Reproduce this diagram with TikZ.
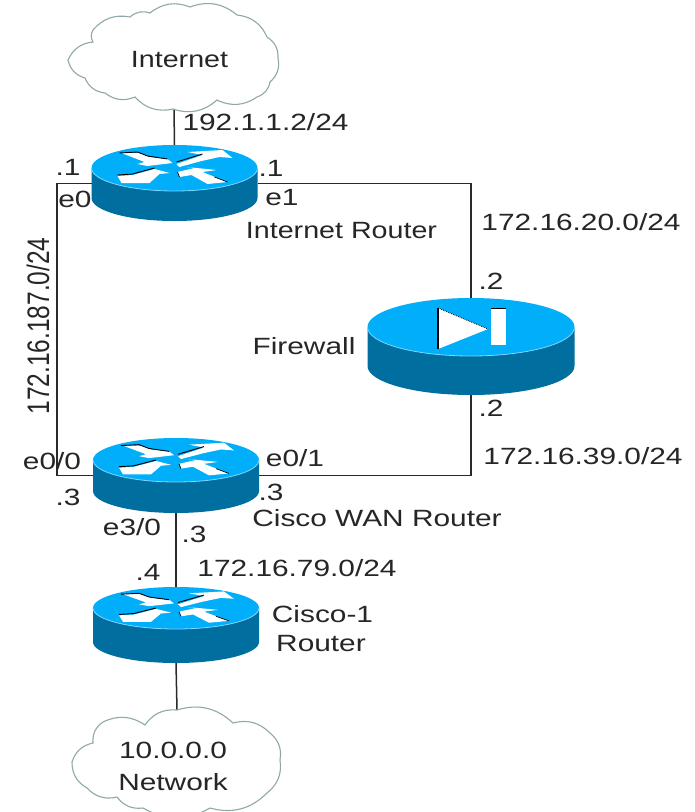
\documentclass[tikz,border=0pt]{standalone}
\usepackage{fontspec}
\setmainfont{Liberation Sans}
\definecolor{disktop}{HTML}{00AEFA}
\definecolor{diskside}{HTML}{006E9F}
\definecolor{diskrim}{HTML}{7FD6FF}
\definecolor{cloudline}{HTML}{8FA8A8}
\definecolor{linkline}{HTML}{2A2A2A}
\definecolor{labeltext}{HTML}{262626}
\tikzset{
  lbl/.style={font=\fontsize{23.5}{26}\selectfont, text=labeltext, inner sep=0pt, outer sep=0pt, xscale=1.27},
  iconbox/.style={inner sep=0pt, outer sep=0pt, draw=none},
  link/.style={draw=linkline, line width=1.5pt},
  cloudshape/.style={draw=cloudline, line width=1.1pt, fill=white},
  cloudarc/.style={bend left=30},
  cloudarcrev/.style={bend right=30},
}
% disk: #1 x, #2 y, #3 x radius, #4 y radius, #5 side height
\newcommand{\ciscodisk}[5]{%
  \fill[diskside] (#1-#3,#2) -- ++(0,#5) arc[start angle=180,end angle=0,x radius=#3,y radius=#4] -- ++(0,-#5) -- cycle;
  \fill[disktop] (#1,#2) ellipse[x radius=#3,y radius=#4];
  \draw[diskrim,line width=0.8pt] (#1-#3,#2) arc[start angle=180,end angle=0,x radius=#3,y radius=#4];
}
\newcommand{\routerarrows}[3]{%
  \begin{scope}[shift={(#1,#2)},yscale=#3]
    \fill[white] (-53,-15) -- (-35,-15) -- (-25,-11) -- (-7,-9) -- (-2,-5) -- (-27,-2) -- (-37,-4) -- (-30,-6) -- cycle;
    \fill[white] (2,-4) -- (28,-13) -- (13,-16) -- (48,-18) -- (58,-10) -- (45,-11) -- (27,-7) -- (5,-1) -- cycle;
    \fill[white] (-57,8) -- (-42,7) -- (-20,1) -- (-5,5) -- (-15,6) -- (-25,15) -- (-53,15) -- cycle;
    \fill[white] (3,4) -- (20,0) -- (12,-1) -- (42,2) -- (28,4) -- (53,14) -- (33,16) -- (17,7) -- (5,9) -- cycle;
    \draw[black,line width=0.9pt] (-55,-15) -- (-37,-16) -- (-27,-12) -- (-7,-9);
    \draw[black,line width=0.9pt] (2,-6) -- (28,-14);
    \draw[black,line width=0.9pt] (-57,7) -- (-42,6) -- (-20,0);
    \draw[black,line width=0.7pt] (3,4) -- (5,9);
    \draw[black,line width=0.7pt] (40,9) -- (53,14);
  \end{scope}
}
\begin{document}
\begin{tikzpicture}[x=1pt,y=-1pt]
\useasboundingbox (0,0) rectangle (695,812);
\fill[white] (0,0) rectangle (695,812);

% anchors for connectors
\node[iconbox,minimum width=210,minimum height=102] (cloudinet) at (174,58) {};
\node[iconbox,minimum width=208,minimum height=102] (cloudnet) at (177,761) {};
\node[iconbox,minimum width=166,minimum height=77] (inetrouter) at (174.5,183.5) {};
\node[iconbox,minimum width=166,minimum height=75] (wanrouter) at (176,475.5) {};
\node[iconbox,minimum width=166,minimum height=76] (ciscoone) at (176,625) {};
\node[iconbox,minimum width=207,minimum height=97] (firewall) at (471,346.5) {};
\coordinate (leftbus) at (57,330);

% connectors
\draw[link] (cloudinet.south) -- (inetrouter.north);
\draw[link] (inetrouter.west) -| (leftbus) |- (wanrouter.west);
\draw[link] (inetrouter.east) -| (firewall.north);
\draw[link] (firewall.south) |- (wanrouter.east);
\draw[link] (wanrouter.south) -- (ciscoone.north);
\draw[link] (ciscoone.south) -- (cloudnet.north);

% clouds
\draw[cloudshape] (173,109) to[cloudarc] (135,97) to[cloudarc] (105,93) to[cloudarc] (85,78) to[cloudarc] (68,60) to[cloudarc] (93,42) to[cloudarc] (93,30) to[cloudarc] (130,17) to[cloudarc] (150,13) to[cloudarc] (190,7) to[cloudarc] (237,15) to[cloudarc] (267,37) to[cloudarc] (278,58) to[cloudarc] (270,82) to[cloudarc] (257,97) to[cloudarc] (217,100) to[cloudarc] cycle;
\draw[cloudshape] (177,710) to[cloudarcrev] (145,725) to[cloudarcrev] (103,722) to[cloudarcrev] (93,743) to[cloudarcrev] (72,762) to[cloudarcrev] (87,788) to[cloudarcrev] (117,797) to[cloudarcrev] (143,808) to[cloudarcrev] (210,808) to[cloudarcrev] (267,793) to[cloudarcrev] (280,760) to[cloudarcrev] (270,733) to[cloudarcrev] (233,723) to[cloudarcrev] cycle;

% disks
\ciscodisk{174.5}{168}{83}{23}{30}
\routerarrows{174.5}{168}{1}
\ciscodisk{176}{460}{83}{22}{31}
\routerarrows{176}{460}{0.96}
\ciscodisk{176}{608}{83}{21}{34}
\routerarrows{176}{608}{0.92}
\ciscodisk{471}{327}{103.5}{29}{39}
\fill[white] (438,308) -- (488,329) -- (438,349) -- cycle;
\draw[black,line width=1.2pt] (438,308) -- (438,349);
\draw[black,line width=0.8pt,densely dotted] (438,308) -- (488,329);
\fill[white] (491,308) rectangle (506,345);
\draw[black,line width=0.8pt] (491,308) -- (506,308);

% labels
\node[lbl,xscale=0.96] (tinternet) at (179.5,60) {Internet};
\node[lbl] (tpublic) at (265.5,122) {192.1.1.2/24};
\node[lbl] (tdot1l) at (68,167) {.1};
\node[lbl] (te0) at (75,199) {e0};
\node[lbl] (tdot1r) at (271,168) {.1};
\node[lbl] (te1) at (282,198) {e1};
\node[lbl,xscale=0.96] (tinetrouter) at (341.5,231) {Internet Router};
\node[lbl] (tnet20) at (581,222) {172.16.20.0/24};
\node[lbl] (tdot2a) at (491,281) {.2};
\node[lbl] (tfirewall) at (304,346) {Firewall};
\node[lbl] (tdot2b) at (491,408) {.2};
\node[lbl] (tnet39) at (583,456) {172.16.39.0/24};
\node[lbl] (te01) at (295,458) {e0/1};
\node[lbl] (te00) at (52,461) {e0/0};
\node[lbl] (tdot3l) at (68,497) {.3};
\node[lbl] (tdot3r) at (271,492) {.3};
\node[lbl] (twan) at (377,518) {Cisco WAN Router};
\node[lbl] (te30) at (132,527) {e3/0};
\node[lbl] (tdot3b) at (194,534) {.3};
\node[lbl] (tdot4) at (148,572) {.4};
\node[lbl] (tnet79) at (297,568) {172.16.79.0/24};
\node[lbl] (tcisco) at (322.5,614) {Cisco-1};
\node[lbl] (trouter) at (321,644) {Router};
\node[lbl] (ttenet) at (173,750) {10.0.0.0};
\node[lbl] (tnetwork) at (173,782) {Network};
\node[lbl,rotate=90,font=\fontsize{24.5}{26}\selectfont] (tnet187) at (38,326) {172.16.187.0/24};
\end{tikzpicture}
\end{document}
